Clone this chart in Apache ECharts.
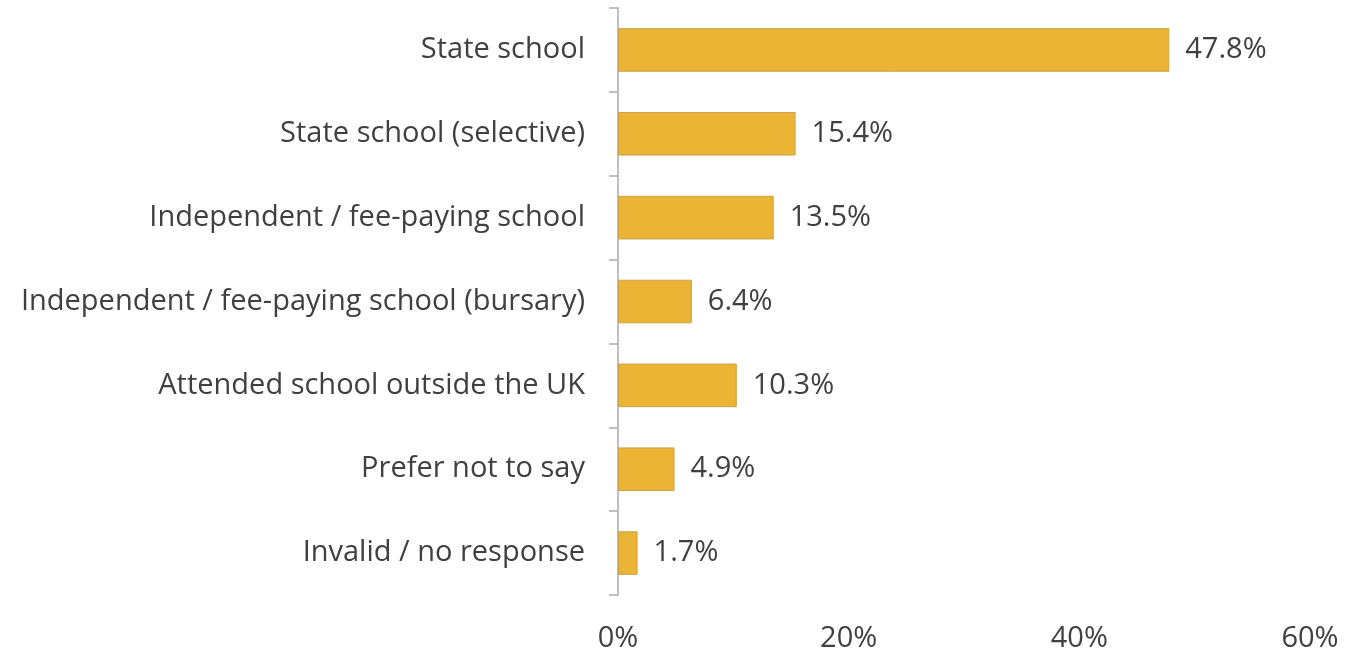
<!DOCTYPE html>
<html>
<head>
<meta charset="utf-8">
<script src="https://cdn.jsdelivr.net/npm/echarts@6/dist/echarts.min.js"></script>
<style>
  html, body { margin: 0; padding: 0; background: #ffffff; }
  #chart { width: 1356px; height: 653px; }
</style>
</head>
<body>
<div id="chart"></div>
<script>
// School type of respondents (share of total, %)
const categories = [
  'State school',
  'State school (selective)',
  'Independent / fee-paying school',
  'Independent / fee-paying school (bursary)',
  'Attended school outside the UK',
  'Prefer not to say',
  'Invalid / no response'
];
const shares = [47.8, 15.4, 13.5, 6.4, 10.3, 4.9, 1.7];
const xTicks = [0, 20, 40, 60];

const FONT = '"Open Sans", "Liberation Sans", sans-serif';
const TEXT = '#404040';
const SIZE = 29;

const chart = echarts.init(document.getElementById('chart'));
chart.setOption({
  animation: false,
  grid: { left: 618, right: 46, top: 8, bottom: 58, containLabel: false },
  xAxis: {
    type: 'value',
    min: xTicks[0],
    max: xTicks[xTicks.length - 1],
    interval: xTicks[1] - xTicks[0],
    axisLine: { show: false },
    axisTick: { show: false },
    splitLine: { show: false },
    axisLabel: {
      formatter: v => v + '%',
      color: TEXT, fontFamily: FONT, fontSize: SIZE, margin: 29
    }
  },
  yAxis: {
    type: 'category',
    inverse: true,
    data: categories,
    axisLine: { show: true, lineStyle: { color: '#bfbfbf', width: 2 } },
    axisTick: { show: true, length: 9, lineStyle: { color: '#bfbfbf', width: 2 } },
    axisLabel: { color: TEXT, fontFamily: FONT, fontSize: SIZE, margin: 33 }
  },
  series: [{
    type: 'bar',
    data: shares,
    barCategoryGap: '48%',
    itemStyle: { color: '#ebb434', borderColor: '#c9a24a', borderWidth: 1 },
    label: {
      show: true,
      position: 'right',
      distance: 16,
      formatter: p => p.value.toFixed(1) + '%',
      color: TEXT, fontFamily: FONT, fontSize: SIZE
    }
  }]
});
</script>
</body>
</html>
